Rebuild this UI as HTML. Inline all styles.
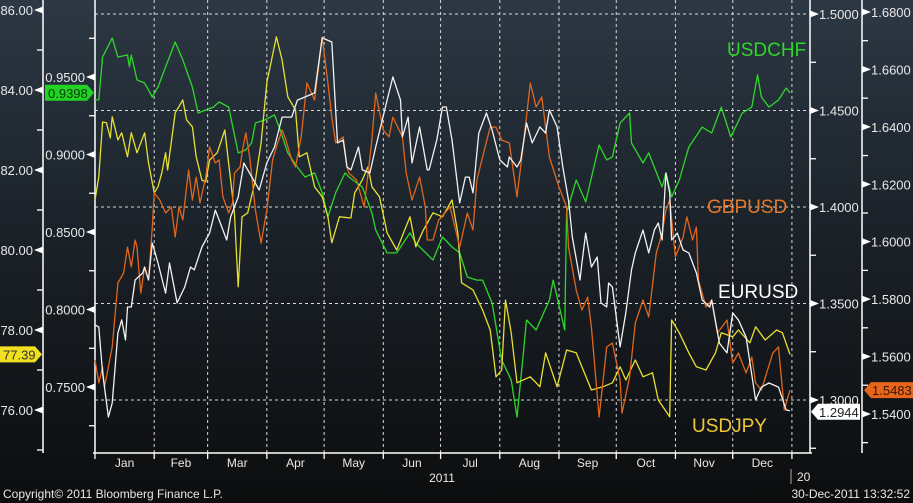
<!DOCTYPE html>
<html><head><meta charset="utf-8"><style>
html,body{margin:0;padding:0;background:#000;}
#wrap{width:913px;height:503px;position:relative;overflow:hidden;background:linear-gradient(#2c3844 0%,#1b2229 45%,#0c0d0e 100%);}
svg text{font-family:"Liberation Sans",sans-serif;}
</style></head><body>
<div id="wrap">
<svg id="chart" width="913" height="503"></svg>
</div>
<script>
// ---- data ----
const monthLabels = ["Jan","Feb","Mar","Apr","May","Jun","Jul","Aug","Sep","Oct","Nov","Dec"];
const monthStartDays = [0,31,59,90,120,151,181,212,243,273,304,334,365];
const jpyTicks = [76,78,80,82,84,86];
const chfTicks = [0.75,0.80,0.85,0.90,0.95];
const eurTicks = [1.30,1.35,1.40,1.45,1.50];
const gbpTicks = [1.54,1.56,1.58,1.60,1.62,1.64,1.66,1.68];

const chfDays = [0,2,4,9,12,17,18,19,22,26,30,33,37,42,46,51,54,58,62,65,70,75,79,82,84,89,94,97,101,106,110,115,119,122,126,131,133,140,145,147,153,158,165,168,177,182,187,191,195,200,203,208,213,218,221,224,226,231,238,240,246,247,252,257,264,268,271,275,280,281,287,290,297,299,302,306,311,318,323,328,333,339,344,347,349,353,358,362,364];
const chfVals = [.9352,.9352,.9629,.9752,.9629,.9642,.9565,.9642,.9481,.9461,.9371,.9435,.9565,.9726,.9610,.9435,.9268,.9287,.9306,.9339,.9306,.9010,.9029,.9074,.9203,.9223,.9255,.9158,.9010,.8919,.8855,.8881,.8752,.8597,.8752,.8881,.8855,.8790,.8623,.8513,.8365,.8365,.8494,.8429,.8319,.8468,.8403,.8365,.8210,.8190,.8190,.8042,.7674,.7545,.7306,.7674,.7932,.7868,.8061,.8190,.7868,.8623,.8835,.8694,.9061,.8965,.8984,.9203,.9268,.9074,.8945,.9010,.8790,.8881,.8726,.8835,.9048,.9177,.9139,.9306,.9113,.9268,.9306,.9513,.9371,.9306,.9352,.9429,.9398];

const jpyDays = [0,2,4,6,8,9,12,14,17,19,22,26,28,31,33,35,37,38,42,46,48,51,53,56,58,60,64,68,71,73,75,77,80,84,87,90,95,98,101,105,107,111,115,119,122,124,128,134,136,140,143,145,149,153,158,165,168,172,177,182,187,190,192,198,203,207,210,213,215,218,221,228,233,236,242,247,252,260,266,271,275,278,283,287,292,295,301,302,306,311,315,320,325,328,334,337,343,346,351,357,360,364];
const jpyVals = [81.25,81.83,83.20,83.18,82.80,83.33,82.75,82.93,82.33,82.93,82.43,82.93,82.18,81.43,81.58,81.93,82.43,82.00,83.43,83.75,83.25,83.08,82.33,81.75,81.70,82.25,82.43,83.00,81.75,80.93,79.08,80.83,80.93,81.75,82.68,84.18,85.33,84.75,83.83,83.50,82.33,82.43,81.58,81.33,80.83,80.18,80.83,80.80,81.43,81.75,82.08,81.58,81.33,80.43,80.00,80.83,80.08,80.50,80.93,80.83,81.25,80.43,79.18,79.00,78.50,78.00,76.83,77.00,78.75,77.93,76.68,76.83,76.58,77.43,76.58,77.50,77.43,76.50,76.58,76.68,77.08,76.75,77.25,76.83,76.93,76.25,75.83,78.25,77.93,77.43,77.08,77.00,77.43,77.93,77.83,78.00,77.68,78.08,77.75,78.00,77.93,77.39];

const eurDays = [0,2,4,7,9,12,14,16,17,19,21,25,26,28,30,33,37,39,43,47,50,52,56,60,63,65,69,71,75,78,83,86,90,94,98,103,106,110,115,119,124,127,130,132,134,138,140,144,147,153,156,160,161,164,166,170,174,175,179,182,184,187,191,194,196,198,201,205,208,212,216,217,221,223,226,229,233,236,238,242,245,248,250,254,255,257,260,263,265,268,269,271,275,278,281,283,287,290,293,295,297,299,301,302,305,308,311,315,318,322,323,327,331,334,337,341,346,349,353,358,362,364];
const eurVals = [1.3389,1.3378,1.3140,1.2912,1.2984,1.3347,1.3415,1.3311,1.3482,1.3482,1.3622,1.3658,1.3689,1.3622,1.3813,1.3710,1.3554,1.3710,1.3503,1.3585,1.3689,1.3674,1.3793,1.3865,1.3984,1.3933,1.3829,1.3948,1.4052,1.4228,1.4140,1.4088,1.4228,1.4311,1.4466,1.4466,1.4554,1.4570,1.4591,1.4876,1.4855,1.4332,1.4347,1.4207,1.4192,1.4311,1.4192,1.4176,1.4311,1.4554,1.4674,1.4554,1.4363,1.4466,1.4228,1.4415,1.4192,1.4192,1.4347,1.4518,1.4518,1.4347,1.4021,1.4155,1.4155,1.4073,1.4383,1.4487,1.4399,1.4244,1.4207,1.4259,1.4207,1.4244,1.4435,1.4332,1.4415,1.4383,1.4503,1.4415,1.4207,1.4036,1.3845,1.3622,1.3710,1.3865,1.3689,1.3741,1.3503,1.3482,1.3606,1.3585,1.3275,1.3451,1.3674,1.3762,1.3881,1.3762,1.3881,1.3917,1.3829,1.4176,1.4073,1.3829,1.3865,1.3777,1.3762,1.3658,1.3518,1.3482,1.3518,1.3295,1.3244,1.3451,1.3415,1.3326,1.3000,1.3067,1.3088,1.3067,1.2948,1.2944];

const gbpDays = [0,2,4,5,9,12,15,17,19,21,22,24,26,28,30,31,34,37,40,42,44,46,49,51,53,55,58,60,63,65,67,70,72,73,76,77,79,81,84,87,90,93,95,98,100,103,105,108,111,115,119,122,124,126,130,132,133,137,141,145,147,151,154,156,161,163,166,170,173,174,177,180,186,191,195,198,200,203,207,210,213,217,221,224,228,231,234,238,243,247,248,252,255,258,260,264,268,271,275,276,280,283,287,290,294,297,299,301,304,308,310,313,315,316,320,323,326,331,334,337,341,344,346,349,355,358,361,364];
const gbpVals = [1.5588,1.5508,1.5564,1.5494,1.5633,1.5856,1.5891,1.5981,1.5912,1.6006,1.5981,1.5821,1.5912,1.5867,1.6051,1.6170,1.6145,1.6100,1.6121,1.6016,1.6121,1.6076,1.6250,1.6145,1.6225,1.6135,1.6225,1.6330,1.6274,1.6285,1.6156,1.6100,1.6135,1.6239,1.6260,1.6309,1.6379,1.6295,1.6110,1.5995,1.6110,1.6285,1.6330,1.6389,1.6354,1.6285,1.6260,1.6365,1.6553,1.6493,1.6713,1.6553,1.6434,1.6344,1.6365,1.6260,1.6239,1.6215,1.6121,1.6354,1.6518,1.6389,1.6365,1.6434,1.6365,1.6239,1.6145,1.6225,1.6121,1.6006,1.6006,1.6076,1.6121,1.5981,1.6100,1.6041,1.6215,1.6295,1.6399,1.6399,1.6354,1.6344,1.6156,1.6319,1.6553,1.6469,1.6504,1.6295,1.6190,1.6121,1.5981,1.5832,1.5762,1.5807,1.5703,1.5389,1.5633,1.5647,1.5518,1.5403,1.5529,1.5717,1.5797,1.5738,1.5961,1.6030,1.6110,1.6145,1.5947,1.6016,1.6086,1.6006,1.6051,1.5867,1.5773,1.5797,1.5682,1.5727,1.5577,1.5612,1.5543,1.5598,1.5508,1.5483,1.5612,1.5633,1.5414,1.5483];

// ---- scales ----
const X0=95, X1=790, PB=453;
const xDay = d => X0 + d*(X1-X0)/364;
const yJPY = v => 10 + (86-v)*40;
const yCHF = v => 77 + (0.95-v)*1550;
const yEUR = v => 14 + (1.5-v)*1930;
const yGBP = v => 12 + (1.68-v)*2871;

const NS="http://www.w3.org/2000/svg";
const svg=document.getElementById('chart');
function mk(tag,attrs,parent){const e=document.createElementNS(NS,tag);for(const k in attrs)e.setAttribute(k,attrs[k]);(parent||svg).appendChild(e);return e;}
function txt(x,y,s,attrs,g){const t=mk('text',Object.assign({x:x,y:y},attrs||{}),g);t.textContent=s;return t;}

// grid
const grid=mk('g',{});


eurTicks.forEach(v=>{const l=mk('line',{x1:X0,x2:810,y1:yEUR(v),y2:yEUR(v),stroke:'#d8d8d8','stroke-width':1,'stroke-dasharray':'3,3'},grid);

});
monthStartDays.slice(1).forEach(d=>{const l=mk('line',{x1:xDay(d),x2:xDay(d),y1:0,y2:PB,stroke:'#d8d8d8','stroke-width':1,'stroke-dasharray':'3,3'},grid);

});

// axes lines
[43,95,810,862].forEach(x=>{const l=mk('line',{x1:x,x2:x,y1:0,y2:PB,stroke:'#fff','stroke-width':1.5});

});
const xa=mk('line',{x1:93,x2:812,y1:PB,y2:PB,stroke:'#fff','stroke-width':1.5});



function axisLabels(ticks,yf,axisX,side,fmt,name){
  const g=mk('g',{});
  
  
  const step=ticks[1]-ticks[0];
  ticks.forEach((v,i)=>{
    const y=yf(v);
    if(side==='left'){
      mk('polygon',{points:`${axisX-9},${y} ${axisX},${y-3.5} ${axisX},${y+3.5}`,fill:'#fff'},g);
      txt(axisX-10,y+5,fmt(v),{fill:'#e8e8e8','font-size':13,'text-anchor':'end'},g);
    }else{
      mk('polygon',{points:`${axisX+9},${y} ${axisX},${y-3.5} ${axisX},${y+3.5}`,fill:'#fff'},g);
      txt(axisX+9,y+5,fmt(v),{fill:'#e8e8e8','font-size':13},g);
    }
    const mid=v+step/2, my=yf(mid);
    if(my>0&&my<PB){
      const x2=side==='left'?axisX-6:axisX+6;
      mk('line',{x1:axisX,x2:x2,y1:my,y2:my,stroke:'#fff','stroke-width':1.3},g);
    }
    const mid2=v-step/2, my2=yf(mid2);
    if(i===0&&my2>0&&my2<PB){
      const x2=side==='left'?axisX-6:axisX+6;
      mk('line',{x1:axisX,x2:x2,y1:my2,y2:my2,stroke:'#fff','stroke-width':1.3},g);
    }
  });
  return g;
}
axisLabels(jpyTicks,yJPY,43,'left',v=>v.toFixed(2),'usdjpy-axis');
axisLabels(chfTicks,yCHF,95,'left',v=>v.toFixed(4),'usdchf-axis');
axisLabels(eurTicks,yEUR,810,'right',v=>v.toFixed(4),'eurusd-axis');
axisLabels(gbpTicks,yGBP,862,'right',v=>v.toFixed(4),'gbpusd-axis');

// x axis ticks and months
const xg=mk('g',{});


monthStartDays.forEach(d=>mk('line',{x1:xDay(d),x2:xDay(d),y1:PB,y2:PB+6,stroke:'#fff','stroke-width':1.3},xg));
monthLabels.forEach((m,i)=>{const t=txt((xDay(monthStartDays[i])+xDay(monthStartDays[i+1]))/2,467,m,{fill:'#e8e8e8','font-size':12,'text-anchor':'middle'},xg);

});
txt(442,482,'2011',{fill:'#e8e8e8','font-size':12,'text-anchor':'middle'},xg);
mk('line',{x1:791,x2:791,y1:469,y2:484,stroke:'#aaa','stroke-width':1},xg);
txt(797,481,'20',{fill:'#e8e8e8','font-size':12},xg);

// series
function series(days,vals,yf,color,name){
  const p=mk('polyline',{points:days.map((d,i)=>xDay(d).toFixed(1)+','+yf(vals[i]).toFixed(1)).join(' '),fill:'none',stroke:color,'stroke-width':1.3,'stroke-linejoin':'round'});
  
  
}
series(chfDays,chfVals,yCHF,'#2ed62a','usdchf-line');
series(jpyDays,jpyVals,yJPY,'#e6e030','usdjpy-line');
series(gbpDays,gbpVals,yGBP,'#e0661c','gbpusd-line');
series(eurDays,eurVals,yEUR,'#f2f2f2','eurusd-line');

// series labels
[['USDCHF',727,56,'#2ed62a'],['GBPUSD',707,213,'#e8782a'],['EURUSD',718,298,'#ffffff'],['USDJPY',692,432,'#f0c838']].forEach(([s,x,y,c])=>{
  const t=txt(x,y,s,{fill:c,'font-size':19});
  
  
});

// value tags
function tagLeft(x0,x1,y,s,bg,fg,name){
  const g=mk('g',{});
  
  
  mk('polygon',{points:`${x0},${y-8} ${x1-7},${y-8} ${x1},${y} ${x1-7},${y+8} ${x0},${y+8}`,fill:bg},g);
  txt(x0+3,y+5,s,{fill:fg,'font-size':13},g);
}
function tagRight(x0,x1,y,s,bg,fg,name){
  const g=mk('g',{});
  
  
  mk('polygon',{points:`${x0},${y} ${x0+7},${y-8} ${x1},${y-8} ${x1},${y+8} ${x0+7},${y+8}`,fill:bg},g);
  txt(x0+8,y+5,s,{fill:fg,'font-size':13},g);
}
tagLeft(45,94,yCHF(0.9398),'0.9398','#22d422','#0a3a0a','usdchf-last-tag');
tagLeft(0,42,yJPY(77.39),'77.39','#f0e020','#333','usdjpy-last-tag');
tagRight(864,913,yGBP(1.5483),'1.5483','#e8661c','#3a1500','gbpusd-last-tag');
tagRight(811,860,yEUR(1.2944)+1,'1.2944','#ffffff','#222','eurusd-last-tag');

// footer
const f1=txt(3,498,'Copyright© 2011 Bloomberg Finance L.P.',{fill:'#e8e8e8','font-size':12});


const f2=txt(910,498,'30-Dec-2011 13:32:52',{fill:'#e8e8e8','font-size':12,'text-anchor':'end'});


</script>
</body></html>
